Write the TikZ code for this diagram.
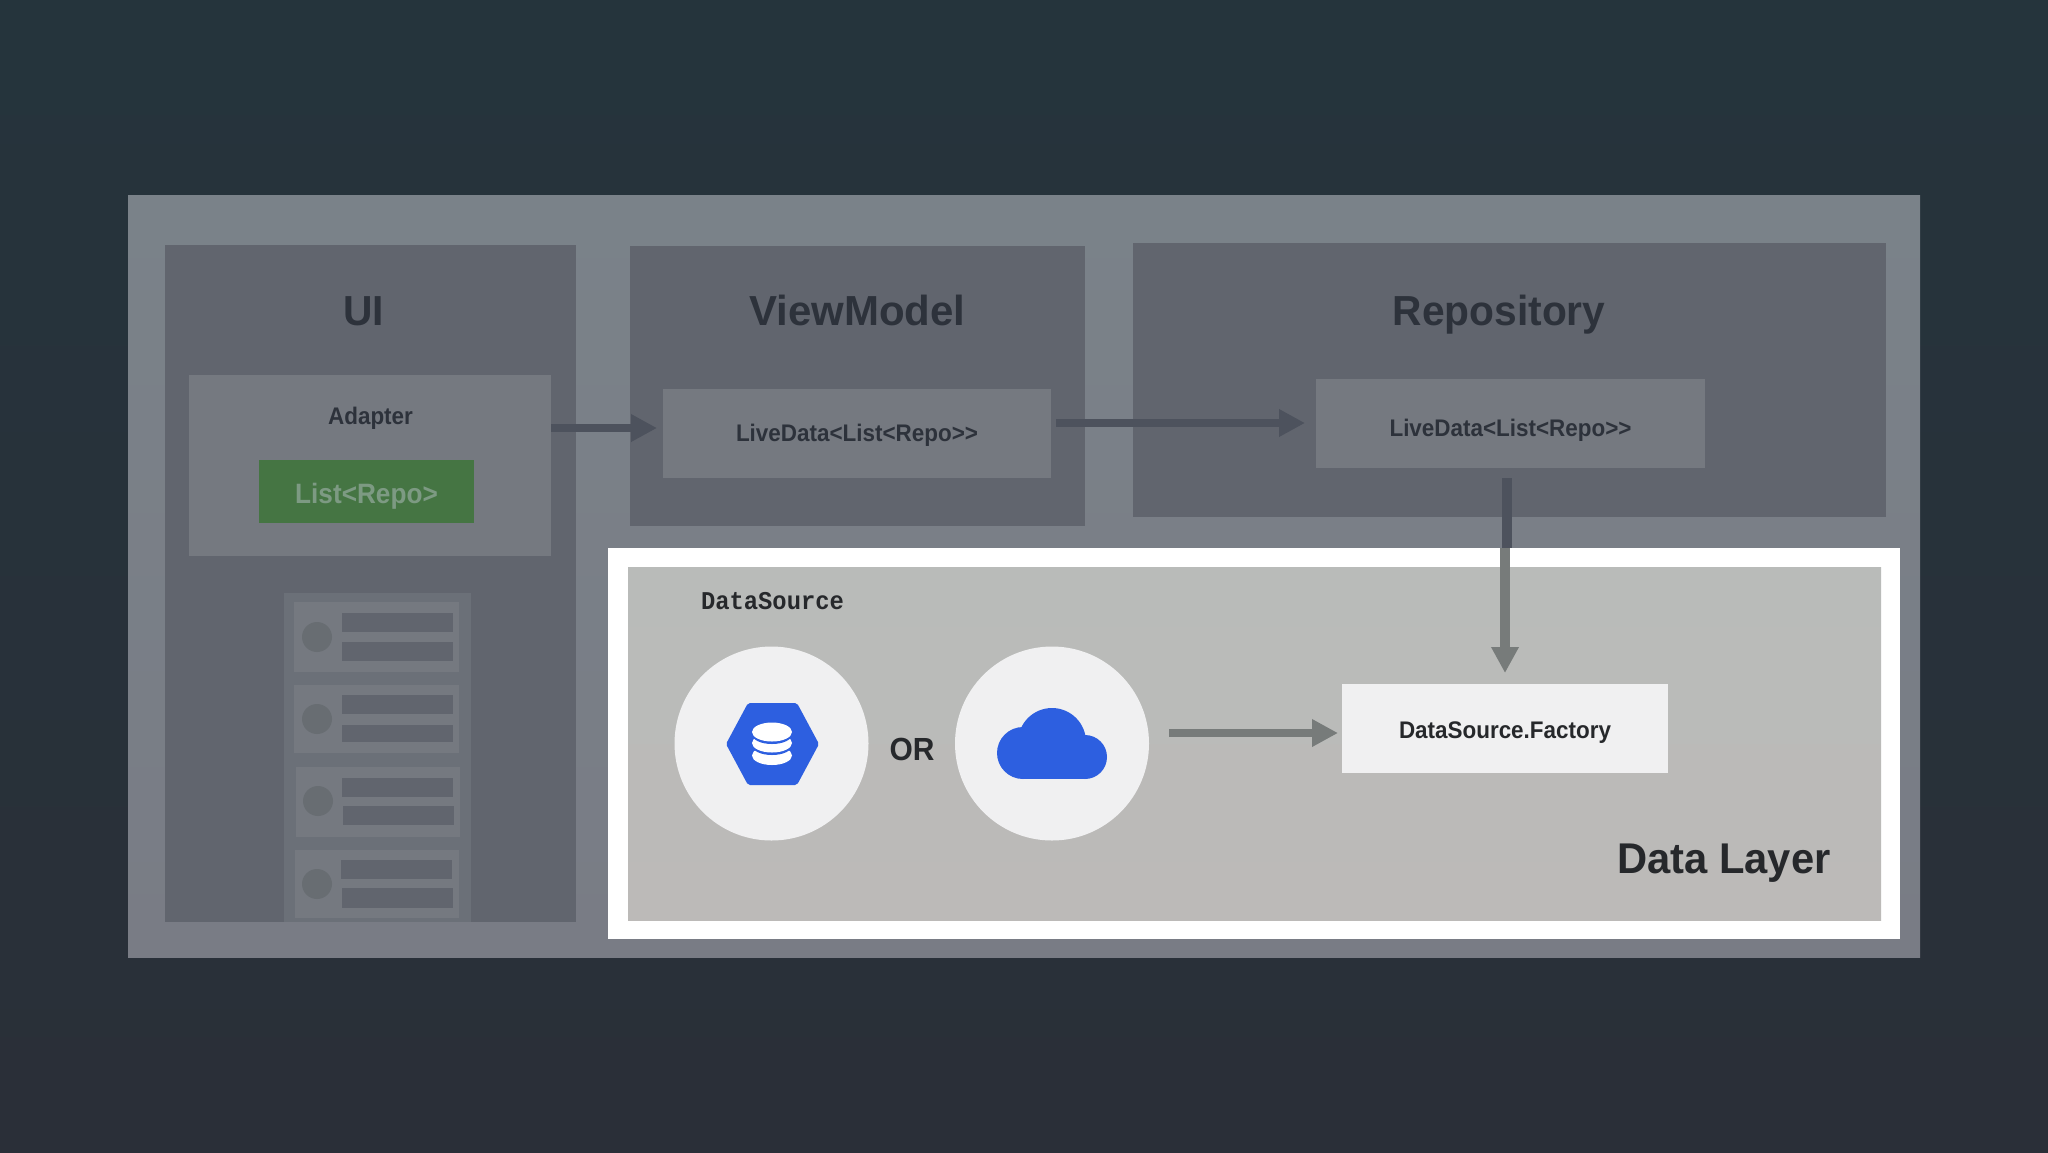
\documentclass[tikz,border=0pt]{standalone}
\usepackage{fontspec}
\setmainfont{Liberation Sans}
\newfontfamily\smallsans[FakeStretch=0.935]{Liberation Sans}
\newfontfamily\titlesans[FakeStretch=0.97]{Liberation Sans}
\newfontfamily\codefont[FakeStretch=0.93]{Liberation Mono}
\usetikzlibrary{arrows.meta}
\definecolor{bgtop}{HTML}{25343C}
\definecolor{bgbot}{HTML}{2A2F38}
\definecolor{outertop}{HTML}{7A8289}
\definecolor{outerbot}{HTML}{797C85}
\definecolor{panelc}{HTML}{61656E}
\definecolor{innerc}{HTML}{757980}
\definecolor{stackc}{HTML}{6B7078}
\definecolor{dotfill}{HTML}{686D72}
\definecolor{greenc}{HTML}{457543}
\definecolor{greentxt}{HTML}{7D9A83}
\definecolor{dimtxt}{HTML}{2D323B}
\definecolor{layertop}{HTML}{B9BBB9}
\definecolor{layerbot}{HTML}{BCBAB8}
\definecolor{palec}{HTML}{F0F0F1}
\definecolor{bluec}{HTML}{2D5FE0}
\definecolor{arrowdark}{HTML}{4D525D}
\definecolor{arrowlight}{HTML}{777B7A}
\definecolor{brighttxt}{HTML}{26282B}
\newcommand{\bx}[7]{%
  \pgfmathsetmacro\bxw{(#4-#2)*0.5}%
  \pgfmathsetmacro\bxh{(#5-#3)*0.5}%
  \node[#6,minimum width=\bxw pt,minimum height=\bxh pt] (#1) at ({(#2+#4)/2},{(#3+#5)/2}) {#7};}
\newcommand{\lowered}[2]{\raisebox{-#1pt}[0pt][0pt]{#2}}
\tikzset{
  block/.style={inner sep=0pt,outer sep=0pt,draw=none},
  panel/.style={block,fill=panelc},
  innerbox/.style={block,fill=innerc,text=dimtxt,font=\smallsans\bfseries\fontsize{12}{14}\selectfont},
  cardbox/.style={block,fill=innerc},
  barbox/.style={block,fill=panelc},
  dotnode/.style={circle,fill=dotfill,minimum size=15pt,inner sep=0pt},
  bigcircle/.style={circle,fill=palec,minimum size=97pt,inner sep=0pt},
  title/.style={inner sep=0pt,anchor=base,text=dimtxt,font=\titlesans\bfseries\fontsize{21}{25}\selectfont},
  tip/.style={-{Triangle[length=13pt,width=13pt]}},
  flowdark/.style={draw=arrowdark,line width=4pt},
  flowlight/.style={draw=arrowlight,line width=4pt},
}
\begin{document}
\begin{tikzpicture}[x=0.5pt,y=-0.5pt]
\path[use as bounding box,top color=bgtop,bottom color=bgbot] (0,0) rectangle (2048,1152);
\path[top color=outertop,bottom color=outerbot] (128,195) rectangle (1920,957);
% panels
\bx{uipanel}{165}{245}{576}{922}{panel}{}
\bx{vmpanel}{630}{246}{1085}{526}{panel}{}
\bx{repopanel}{1133}{243}{1886}{517}{panel}{}
\node[title] (uititle) at (363.5,325) {UI};
\node[title,font=\bfseries\fontsize{21}{25}\selectfont] (vmtitle) at (857.5,325) {ViewModel};
\node[title] (repotitle) at (1499,325) {Repository};
% adapter
\bx{adapter}{189}{375}{551}{556}{block,fill=innerc}{}
\node[inner sep=0pt,anchor=base,text=dimtxt,font=\smallsans\bfseries\fontsize{12}{14}\selectfont] (adaptertxt) at (370.5,424) {Adapter};
\bx{listrepo}{259}{460}{474}{523}{block,fill=greenc,text=greentxt,font=\smallsans\bfseries\fontsize{14}{17}\selectfont}{\lowered{5.75}{List<Repo>}}
% list stack
\bx{stack}{284}{593}{471}{922}{block,fill=stackc}{}
\bx{carda}{294}{602}{459}{672}{cardbox}{}
\bx{cardb}{294}{685}{459}{753}{cardbox}{}
\bx{cardc}{296}{767}{460}{837}{cardbox}{}
\bx{cardd}{295}{850}{459}{918}{cardbox}{}
\node[dotnode] (dota) at (317,637) {};
\node[dotnode] (dotb) at (317,719) {};
\node[dotnode] (dotc) at (318,801) {};
\node[dotnode] (dotd) at (317,884) {};
\bx{bara}{342}{613}{453}{632}{barbox}{}
\bx{barb}{342}{642}{453}{661}{barbox}{}
\bx{barc}{342}{695}{453}{714}{barbox}{}
\bx{bard}{342}{725}{453}{742}{barbox}{}
\bx{bare}{342}{778}{453}{797}{barbox}{}
\bx{barf}{343}{806}{454}{825}{barbox}{}
\bx{barg}{341}{860}{452}{879}{barbox}{}
\bx{barh}{342}{888}{453}{908}{barbox}{}
% livedata
\bx{vmlive}{663}{389}{1051}{478}{innerbox}{\lowered{3.75}{LiveData<List<Repo>{}>}}
\bx{repolive}{1316}{379}{1705}{468}{innerbox}{\lowered{6.25}{LiveData<List<Repo>{}>}}
% data layer
\bx{whiteframe}{608}{548}{1900}{939}{block,fill=white}{}
\path[top color=layertop,bottom color=layerbot] (628,567) rectangle (1881,920);
\node[inner sep=0pt,anchor=base,text=brighttxt,font=\codefont\bfseries\fontsize{12.8}{15}\selectfont] (dstitle) at (772.5,609) {DataSource};
\node[bigcircle] (dbcircle) at (771.5,743.5) {};
\node[bigcircle] (cloudcircle) at (1052,743.5) {};
\node[inner sep=0pt,anchor=base,text=brighttxt,font=\smallsans\bfseries\fontsize{16}{19}\selectfont] (ortxt) at (912,760) {OR};
% hexagon
\fill[bluec,rounded corners=1pt] (726,744) -- (748,703) -- (797,703) -- (819,744) -- (797,785) -- (748,785) -- cycle;
% database
\fill[white] (772,755.5) ellipse (20 and 9.5);
\fill[bluec] (772,745.5) ellipse (20 and 9.5);
\fill[white] (772,743) ellipse (20 and 9.5);
\fill[bluec] (772,734.5) ellipse (20 and 9.5);
\fill[white] (772,732) ellipse (20 and 9.5);
% cloud
\fill[bluec] (1023,753) circle (26);
\fill[bluec] (1052,742) circle (34);
\fill[bluec] (1085,757) circle (22);
\fill[bluec] (1023,745) rectangle (1085,779);
% factory
\bx{factory}{1342}{684}{1668}{773}{block,fill=palec,text=brighttxt,font=\smallsans\bfseries\fontsize{12}{15}\selectfont}{\lowered{4.75}{DataSource.Factory}}
\node[inner sep=0pt,anchor=base,text=brighttxt,font=\titlesans\bfseries\fontsize{21.5}{25}\selectfont] (layertxt) at (1724,873) {Data Layer};
% connectors
\coordinate (aout) at (adapter.east |- 0,428);
\coordinate (ain) at (vmlive.west |- 0,428);
\draw[flowdark,tip,shorten >=3pt] (aout) -- (ain);
\coordinate (vout) at (1056,423);
\coordinate (vin) at (repolive.west |- 0,423);
\draw[flowdark,tip,shorten >=5.5pt] (vout) -- (vin);
\coordinate (dsout) at (1169,733);
\coordinate (dsin) at (factory.west |- 0,733);
\draw[flowlight,tip,shorten >=2pt] (dsout) -- (dsin);
\coordinate (rtop) at (1507,478);
\coordinate (rmid) at (1507,548);
\coordinate (lmid) at (1505,548);
\coordinate (fin) at (1505,684);
\draw[flowdark,line width=5pt] (rtop) -- (rmid);
\draw[flowlight,line width=5pt,tip,shorten >=5.5pt] (lmid) -- (fin);
\end{tikzpicture}
\end{document}
